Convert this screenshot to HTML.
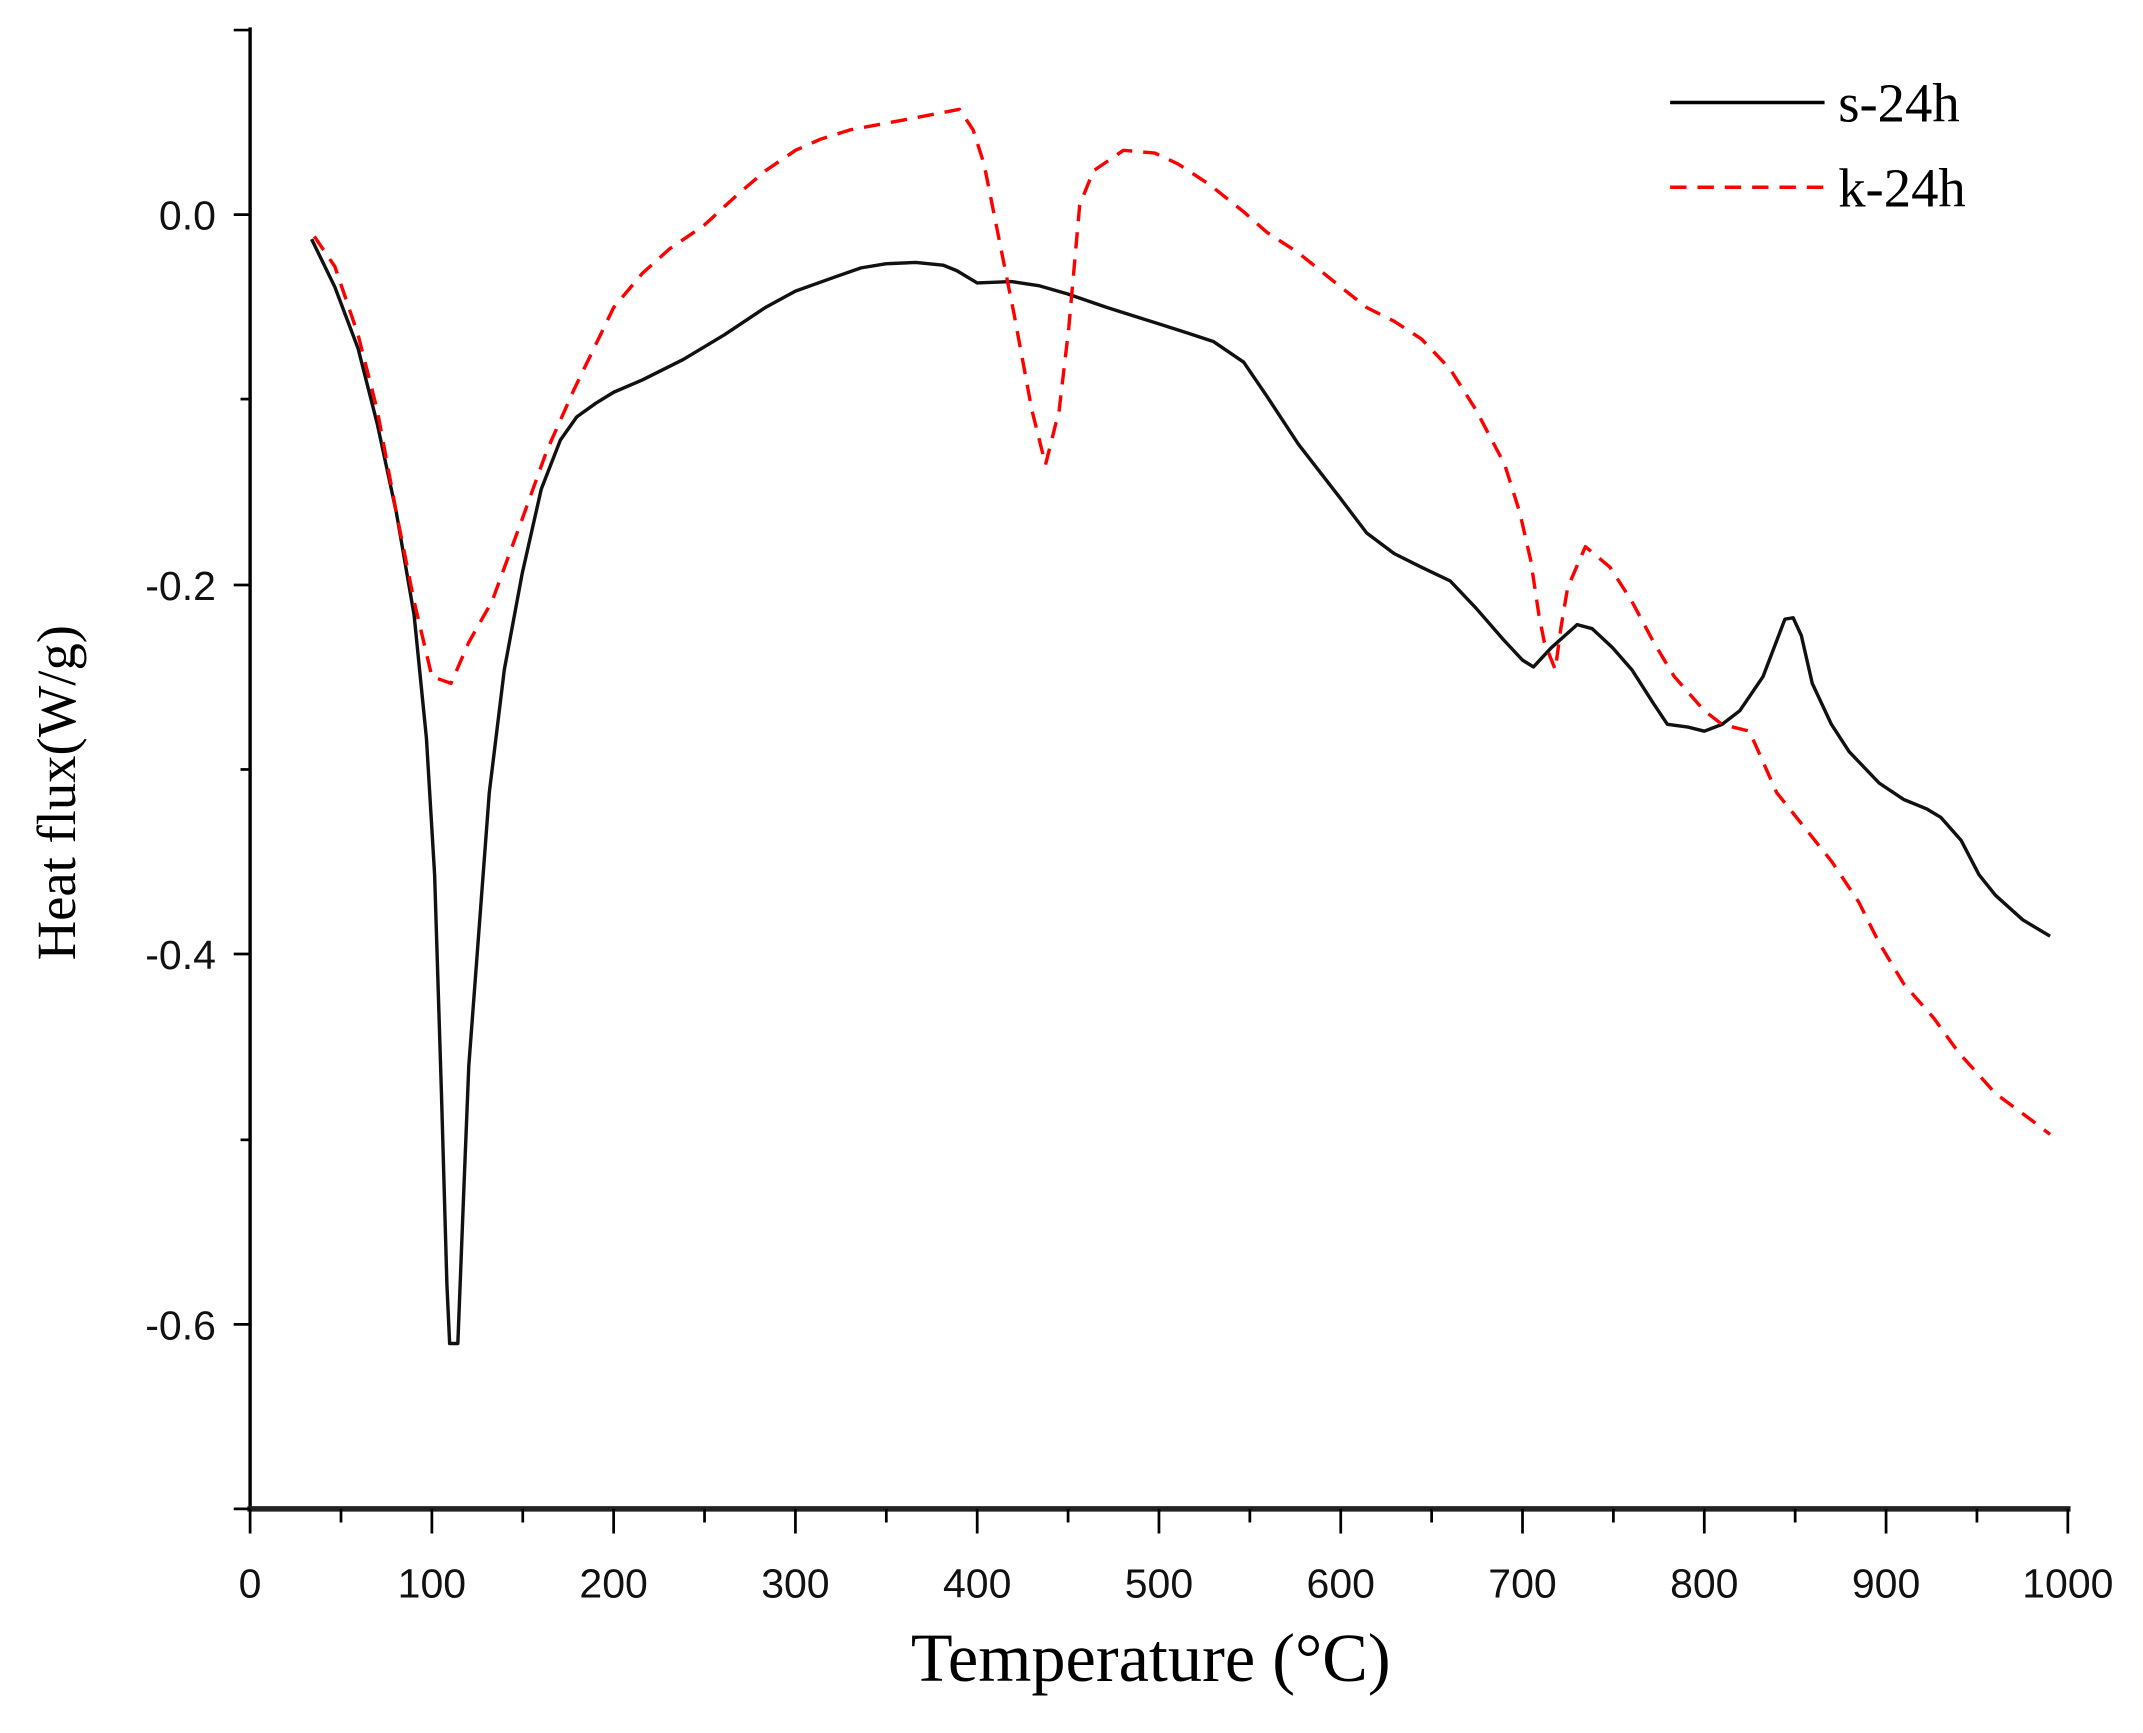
<!DOCTYPE html>
<html><head><meta charset="utf-8"><style>html,body{margin:0;padding:0;background:#fff}svg{display:block}</style></head>
<body>
<svg width="2143" height="1733" viewBox="0 0 1568 1268" preserveAspectRatio="none" xmlns="http://www.w3.org/2000/svg">
<rect width="1568" height="1268" fill="#fff"/>
<line x1="183" y1="20" x2="183" y2="1104" stroke="#000" stroke-width="2.5"/>
<line x1="181" y1="1104" x2="1515" y2="1104" stroke="#222" stroke-width="4"/>
<g stroke="#000" stroke-width="2">
<line x1="171" y1="22" x2="183" y2="22"/>
<line x1="171" y1="157" x2="183" y2="157"/>
<line x1="176" y1="292" x2="183" y2="292"/>
<line x1="171" y1="428" x2="183" y2="428"/>
<line x1="176" y1="563" x2="183" y2="563"/>
<line x1="171" y1="698" x2="183" y2="698"/>
<line x1="176" y1="834" x2="183" y2="834"/>
<line x1="171" y1="969" x2="183" y2="969"/>
<line x1="171" y1="1104" x2="183" y2="1104"/>
</g>
<g stroke="#000" stroke-width="2">
<path d="M183 1104v18M316 1104v18M449 1104v18M582 1104v18M715 1104v18M848 1104v18M981 1104v18M1114 1104v18M1247 1104v18M1380 1104v18M1513 1104v18"/>
<path d="M249.5 1104v10M382.5 1104v10M515.5 1104v10M648.5 1104v10M781.5 1104v10M914.5 1104v10M1047.5 1104v10M1180.5 1104v10M1313.5 1104v10M1446.5 1104v10"/>
</g>
<g font-family="Liberation Sans, sans-serif" font-size="30" fill="#111" text-anchor="end">
<text x="158" y="168">0.0</text>
<text x="158" y="439">-0.2</text>
<text x="158" y="709">-0.4</text>
<text x="158" y="980">-0.6</text>
</g>
<g font-family="Liberation Sans, sans-serif" font-size="30" fill="#111" text-anchor="middle">
<text x="183" y="1169">0</text><text x="316" y="1169">100</text><text x="449" y="1169">200</text><text x="582" y="1169">300</text><text x="715" y="1169">400</text><text x="848" y="1169">500</text><text x="981" y="1169">600</text><text x="1114" y="1169">700</text><text x="1247" y="1169">800</text><text x="1380" y="1169">900</text><text x="1513" y="1169">1000</text>
</g>
<text x="842" y="1230" font-family="Liberation Serif, serif" font-size="50" text-anchor="middle" fill="#000">Temperature (°C)</text>
<text transform="translate(55,580) rotate(-90)" font-family="Liberation Serif, serif" font-size="40" text-anchor="middle" fill="#000">Heat flux(W/g)</text>
<line x1="1222" y1="75" x2="1335" y2="75" stroke="#000" stroke-width="2.5"/>
<line x1="1222" y1="137" x2="1335" y2="137" stroke="#f00" stroke-width="2.5" stroke-dasharray="12,8"/>
<text x="1345" y="89" font-family="Liberation Serif, serif" font-size="40" fill="#000">s-24h</text>
<text x="1345" y="151" font-family="Liberation Serif, serif" font-size="40" fill="#000">k-24h</text>
<polyline fill="none" stroke="#111" stroke-width="2.5" stroke-linejoin="round" points="228,175 245,210 262,255 276,310 290,375 303,450 312,540 318,640 323,800 327,940 329,983 335,983 339,880 343,780 349,700 358,580 369,490 382,420 396,358 410,322 422,305 436,295 449,287 470,278 500,263 530,245 560,225 582,213 610,203 630,196 648,193 670,192 690,194 700,198 715,207 740,206 760,209 781,215 810,225 848,237 870,244 888,250 910,265 927,290 950,325 981,365 1000,390 1020,405 1040,415 1061,425 1080,445 1100,468 1114,483 1122,488 1135,474 1154,457 1165,460 1180,474 1194,490 1210,515 1220,530 1235,532 1247,535 1260,530 1273,520 1290,495 1306,453 1312,452 1318,465 1326,500 1340,530 1353,550 1375,573 1393,585 1410,592 1420,598 1435,615 1448,640 1460,655 1480,673 1500,685"/>
<polyline fill="none" stroke="#f00" stroke-width="2.5" stroke-dasharray="12,8" stroke-linejoin="round" points="230,173 245,195 262,245 276,300 290,375 303,440 316,495 330,500 343,470 360,440 382,380 400,330 420,285 449,225 470,200 490,182 515,165 540,142 560,125 582,110 600,102 622,95 660,88 702,80 712,95 720,120 728,160 742,230 755,300 765,340 775,300 782,240 790,150 800,125 822,110 845,112 862,120 885,135 910,155 927,170 950,185 981,210 1000,225 1020,235 1040,248 1061,270 1080,300 1101,340 1112,375 1120,410 1126,450 1130,470 1138,490 1142,460 1147,430 1160,400 1178,415 1194,440 1210,470 1225,495 1247,520 1260,530 1280,535 1300,580 1320,605 1340,630 1360,660 1375,690 1393,720 1415,745 1433,770 1460,800 1487,820 1500,830"/>
</svg>
</body></html>
